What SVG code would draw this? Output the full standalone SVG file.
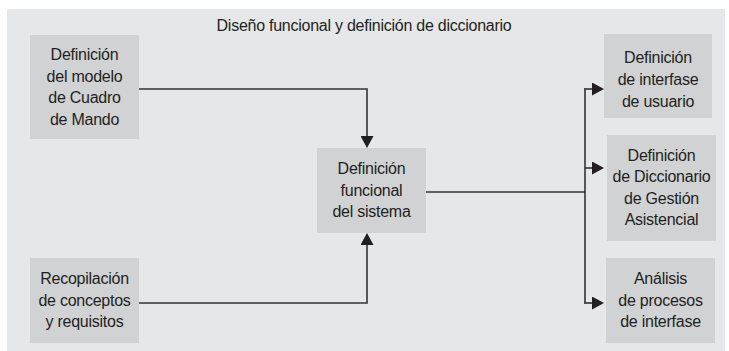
<svg xmlns="http://www.w3.org/2000/svg" width="729" height="351" viewBox="0 0 729 351">
  <style>
    .panel { fill: #e6e7e8; }
    .box { fill: #d1d2d4; }
    text { font-family: "Liberation Sans", "Open Sans", sans-serif; font-size: 16px; letter-spacing: -0.25px; fill: #231f20; text-anchor: middle; }
    .conn { fill: none; stroke: #333333; stroke-width: 1.6; }
  </style>
  <defs>
    <marker id="arrow" viewBox="0 0 12 13" refX="10" refY="6.5" markerWidth="12" markerHeight="13" markerUnits="userSpaceOnUse" orient="auto">
      <path d="M0,0 L12,6.5 L0,13 Z" fill="#231f20"/>
    </marker>
  </defs>

  <rect class="panel" x="7" y="9" width="718" height="342"/>
  <text id="title" x="364" y="31">Diseño funcional y definición de diccionario</text>

  <g id="connectors">
    <path class="conn" d="M139,89 H367 V146" marker-end="url(#arrow)"/>
    <path class="conn" d="M139,303 H367 V235" marker-end="url(#arrow)"/>
    <path class="conn" d="M426,192 H585"/>
    <path class="conn" d="M585,88.3 V303.5"/>
    <path class="conn" d="M584.2,89 H602" marker-end="url(#arrow)"/>
    <path class="conn" d="M585,168 H602" marker-end="url(#arrow)"/>
    <path class="conn" d="M584.2,303 H602" marker-end="url(#arrow)"/>
  </g>

  <g id="node-modelo">
    <rect class="box" x="30" y="35" width="109" height="104"/>
    <text x="84.5" y="60">Definición</text>
    <text x="84.5" y="81.5">del modelo</text>
    <text x="84.5" y="103">de Cuadro</text>
    <text x="84.5" y="124.5">de Mando</text>
  </g>

  <g id="node-recopilacion">
    <rect class="box" x="30" y="258" width="109" height="85"/>
    <text x="84.5" y="284">Recopilación</text>
    <text x="84.5" y="305.5">de conceptos</text>
    <text x="84.5" y="327">y requisitos</text>
  </g>

  <g id="node-funcional">
    <rect class="box" x="317" y="148" width="109" height="85"/>
    <text x="371.5" y="174">Definición</text>
    <text x="371.5" y="195.5">funcional</text>
    <text x="371.5" y="217">del sistema</text>
  </g>

  <g id="node-interfase">
    <rect class="box" x="604" y="34" width="108" height="84"/>
    <text x="658" y="62.5">Definición</text>
    <text x="658" y="84.5">de interfase</text>
    <text x="658" y="106.5">de usuario</text>
  </g>

  <g id="node-diccionario">
    <rect class="box" x="607" y="135" width="109" height="106"/>
    <text x="661.5" y="160.5">Definición</text>
    <text x="661.5" y="182">de Diccionario</text>
    <text x="661.5" y="203.5">de Gestión</text>
    <text x="661.5" y="225">Asistencial</text>
  </g>

  <g id="node-analisis">
    <rect class="box" x="606" y="258" width="109" height="85"/>
    <text x="660.5" y="284">Análisis</text>
    <text x="660.5" y="305.5">de procesos</text>
    <text x="660.5" y="327">de interfase</text>
  </g>
</svg>
